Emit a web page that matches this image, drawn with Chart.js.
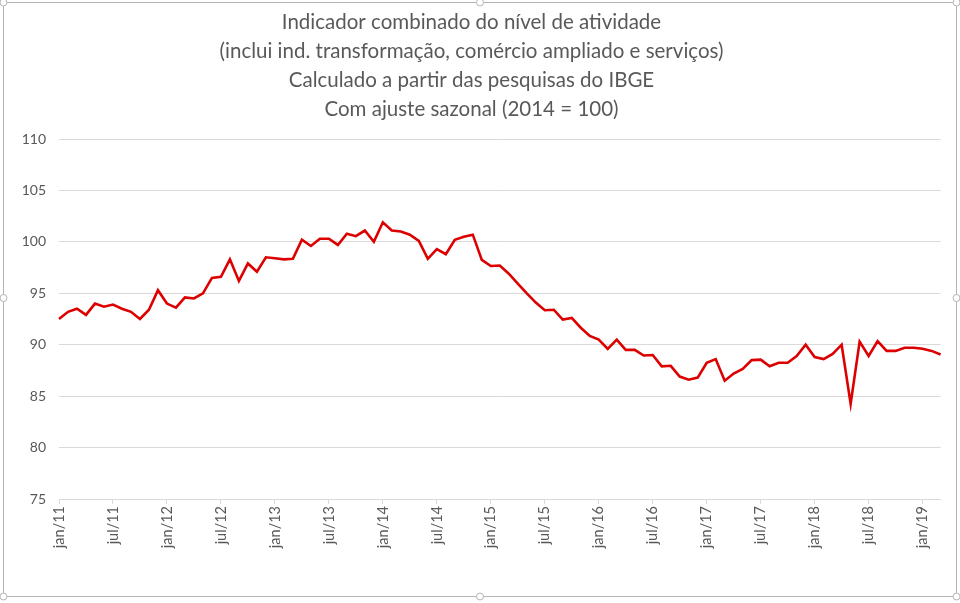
<!DOCTYPE html>
<html>
<head>
<meta charset="utf-8">
<script src="https://cdn.jsdelivr.net/npm/chart.js@4.4.1/dist/chart.umd.min.js"></script>
<style>
  html, body { margin: 0; padding: 0; background: #fff; }
  canvas { display: block; }
</style>
</head>
<body>
<canvas id="mycanvas" width="960" height="603"></canvas>
<script>
// months / years used to build category labels (jan/11 .. mar/19)
var months = ["jan", "fev", "mar", "abr", "mai", "jun", "jul", "ago", "set", "out", "nov", "dez"];
var years = ["11", "12", "13", "14", "15", "16", "17", "18", "19"];

// indicador combinado, 2014 = 100, com ajuste sazonal
var vals2011 = [92.5, 93.2, 93.5, 92.9, 94.0, 93.7, 93.9, 93.5, 93.2, 92.5, 93.4, 95.3];
var vals2012 = [94.0, 93.6, 94.6, 94.5, 95.0, 96.5, 96.6, 98.3, 96.2, 97.9, 97.1, 98.5];
var vals2013 = [98.4, 98.3, 98.35, 100.2, 99.6, 100.3, 100.3, 99.7, 100.8, 100.55, 101.1, 100.0];
var vals2014 = [101.9, 101.1, 101.0, 100.7, 100.1, 98.35, 99.3, 98.8, 100.2, 100.5, 100.7, 98.25];
var vals2015 = [97.65, 97.7, 96.9, 95.95, 95.0, 94.1, 93.35, 93.4, 92.45, 92.6, 91.65, 90.85];
var vals2016 = [90.5, 89.6, 90.5, 89.5, 89.5, 88.95, 89.0, 87.9, 87.95, 86.9, 86.6, 86.8];
var vals2017 = [88.25, 88.6, 86.5, 87.2, 87.65, 88.5, 88.55, 87.9, 88.25, 88.25, 88.9, 90.0];
var vals2018 = [88.8, 88.6, 89.1, 90.0, 84.25, 90.3, 88.9, 90.35, 89.4, 89.4, 89.7, 89.7];
var vals2019 = [89.6, 89.4, 89.05];

var yTicks = [75, 80, 85, 90, 95, 100, 105, 110];

var titleLines = [
	"Indicador combinado do nível de atividade",
	"(inclui ind. transformação, comércio ampliado e serviços)",
	"Calculado a partir das pesquisas do IBGE",
	"Com ajuste sazonal (2014 = 100)"
];

var values = [].concat(vals2011, vals2012, vals2013, vals2014, vals2015, vals2016, vals2017, vals2018, vals2019);
var labels = [];
for (var i = 0; i < values.length; i++) {
	labels.push(months[i % 12] + "/" + years[Math.floor(i / 12)]);
}

var textColor = "#595959";
var gridColor = "#d9d9d9";
var fontFamily = "Lato, 'Open Sans', sans-serif";

// selection frame drawn round the chart, like the Excel object in the picture
var framePlugin = {
	id: "frame",
	afterDraw: function(chart) {
		var c = chart.ctx;
		c.save();
		c.strokeStyle = "#b4b4b4";
		c.lineWidth = 1;
		c.strokeRect(3.5, 2.5, 953, 594);
		var pts = [[3.5, 2.5], [480, 2.5], [956.5, 2.5], [3.5, 298], [956.5, 298], [3.5, 596.5], [480, 596.5], [956.5, 596.5]];
		pts.forEach(function(p) {
			c.beginPath();
			c.arc(p[0], p[1], 3.5, 0, Math.PI * 2);
			c.fillStyle = "#fff";
			c.fill();
			c.stroke();
		});
		c.restore();
	}
};

var ctx = document.getElementById("mycanvas");

var LineGraph = new Chart(ctx, {
	type: "line",
	data: {
		labels: labels,
		datasets: [
			{
				label: "Indicador",
				data: values,
				borderColor: "#dc0000",
				backgroundColor: "#dc0000",
				borderWidth: 2.6,
				pointRadius: 0,
				tension: 0,
				fill: false
			}
		]
	},
	options: {
		responsive: false,
		animation: false,
		devicePixelRatio: 1,
		layout: { padding: { left: 0, right: 17, top: 0, bottom: 0 } },
		plugins: {
			legend: { display: false },
			tooltip: { enabled: false },
			title: {
				display: true,
				text: titleLines,
				color: textColor,
				font: { family: fontFamily, size: 20.5, weight: "normal", lineHeight: 29 / 20.5 },
				padding: { top: 8, bottom: 15 }
			}
		},
		scales: {
			x: {
				type: "category",
				offset: false,
				border: { display: true, color: gridColor, width: 1 },
				grid: {
					drawOnChartArea: false,
					drawTicks: true,
					tickLength: 5,
					color: function(c) { return c.index % 6 === 0 ? gridColor : "rgba(0,0,0,0)"; }
				},
				ticks: {
					autoSkip: false,
					maxRotation: 90,
					minRotation: 90,
					padding: 2,
					color: textColor,
					font: { family: fontFamily, size: 14.5 },
					callback: function(value, index) {
						return index % 6 === 0 ? this.getLabelForValue(value) : "";
					}
				},
				afterFit: function(s) { s.height = 104; }
			},
			y: {
				min: yTicks[0],
				max: yTicks[yTicks.length - 1],
				border: { display: false },
				grid: { color: gridColor, drawTicks: false },
				ticks: {
					stepSize: 5,
					padding: 13,
					color: textColor,
					font: { family: fontFamily, size: 14 }
				},
				afterFit: function(s) { s.width = 59; }
			}
		}
	},
	plugins: [framePlugin]
});
</script>
</body>
</html>
